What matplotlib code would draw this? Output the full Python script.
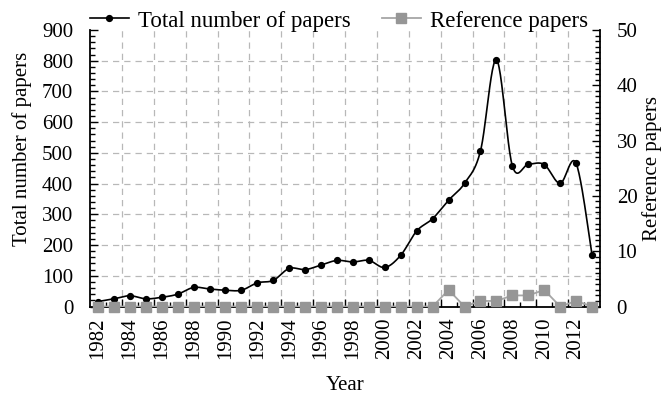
import numpy as np
import matplotlib
matplotlib.use("Agg")
import matplotlib.pyplot as plt
from matplotlib.ticker import MultipleLocator, FixedLocator, NullFormatter
from matplotlib.lines import Line2D

years = list(range(1982, 2014))
total_papers = [16, 25, 35, 25, 30, 40, 62, 57, 53, 53, 77, 85, 124, 120, 135, 150,
                145, 150, 127, 167, 246, 286, 346, 401, 506, 803, 458, 463, 462, 401,
                466, 168]
reference_papers = [0, 0, 0, 0, 0, 0, 0, 0, 0, 0, 0, 0, 0, 0, 0, 0,
                    0, 0, 0, 0, 0, 0, 3, 0, 1, 1, 2, 2, 3, 0, 1, 0]
year_labels = [str(y) for y in range(1982, 2014, 2)]

FS = 15
LEG_FS = 16.5
plt.rcParams['font.family'] = ['Liberation Serif', 'DejaVu Serif']
plt.rcParams['font.size'] = FS


def smooth_curve(x, y, steps=24):
    """Cubic Bezier smoothing through every point (Catmull-Rom style)."""
    x = np.asarray(x, float)
    y = np.asarray(y, float)
    n = len(x)
    xs, ys = [], []
    for i in range(n - 1):
        p0 = np.array([x[max(i - 1, 0)], y[max(i - 1, 0)]])
        p1 = np.array([x[i], y[i]])
        p2 = np.array([x[i + 1], y[i + 1]])
        p3 = np.array([x[min(i + 2, n - 1)], y[min(i + 2, n - 1)]])
        c1 = p1 + (p2 - p0) / 6.0
        c2 = p2 - (p3 - p1) / 6.0
        t = np.linspace(0, 1, steps, endpoint=(i == n - 2))[:, None]
        pts = ((1 - t) ** 3) * p1 + 3 * ((1 - t) ** 2) * t * c1 \
            + 3 * (1 - t) * t ** 2 * c2 + t ** 3 * p2
        xs.append(pts[:, 0])
        ys.append(pts[:, 1])
    return np.concatenate(xs), np.concatenate(ys)


fig = plt.figure(figsize=(6.63, 3.97), dpi=100)
ax = fig.add_axes([90 / 663, 1 - 306.5 / 397, 510 / 663, 276.5 / 397])
ax2 = ax.twinx()

# Total number of papers (left axis), smoothed line with dots
sx, sy = smooth_curve(years, total_papers)
ax.plot(sx, sy, color='black', lw=1.2, zorder=3)
ax.plot(years, total_papers, 'o', color='black', ms=4.2, zorder=4)

# Reference papers (right axis)
ax2.plot(years, reference_papers, '-', color='#a6a6a6', lw=1.3, zorder=3)
ax2.plot(years, reference_papers, 's', color='#969696', ms=6.8, zorder=4,
         clip_on=False)

ax.set_xlim(1981.5, 2013.5)
ax.set_ylim(0, 900)
ax2.set_ylim(0, 50)

# Category-style x axis: labels at every other year, ticks between categories
ax.xaxis.set_major_locator(FixedLocator(np.arange(1983.5, 2013, 2)))
ax.xaxis.set_minor_locator(FixedLocator(np.arange(1982.5, 2013, 2)))
ax.xaxis.set_major_formatter(NullFormatter())
for yr, lab in zip(range(1982, 2014, 2), year_labels):
    ax.text(yr, -0.04, lab, rotation=90, ha='center', va='top',
            transform=ax.get_xaxis_transform(), fontsize=FS)

ax.yaxis.set_major_locator(MultipleLocator(100))
ax.yaxis.set_minor_locator(MultipleLocator(20))
ax2.yaxis.set_major_locator(MultipleLocator(10))
ax2.yaxis.set_minor_locator(MultipleLocator(1))

ax.tick_params(axis='both', which='major', direction='in', length=6, width=1,
               labelsize=FS)
ax.tick_params(axis='both', which='minor', direction='in', length=3.5, width=1)
ax.tick_params(axis='y', which='major', pad=12)
ax2.tick_params(axis='y', which='major', direction='in', length=6, width=1,
                labelsize=FS, pad=12)
ax2.tick_params(axis='y', which='minor', direction='in', length=3.5, width=1)

for s in ['top', 'right']:
    ax.spines[s].set_visible(False)
for s in ['top', 'left', 'bottom']:
    ax2.spines[s].set_visible(False)
for s in ['left', 'bottom']:
    ax.spines[s].set_linewidth(1.3)
ax2.spines['right'].set_linewidth(1.3)

# Dashed grid
for gy in range(100, 900, 100):
    ax.axhline(gy, color='#b8b8b8', lw=0.9, ls=(0, (5, 4)), zorder=1)
for gx in np.arange(1983.5, 2013, 2):
    ax.axvline(gx, color='#b8b8b8', lw=0.9, ls=(0, (5, 4)), zorder=1)

ax.set_ylabel('Total number of papers', fontsize=FS)
ax.yaxis.set_label_coords(-0.114, 0.57)
ax2.set_ylabel('Reference papers', fontsize=FS)
ax2.yaxis.set_label_coords(1.082, 0.5)
fig.text(0.5 * (90 + 600) / 663, 1 - 385 / 397, 'Year', ha='center',
         va='center', fontsize=FS)

handles = [
    Line2D([], [], color='black', lw=1.2, marker='o', ms=4.2),
    Line2D([], [], color='#a6a6a6', lw=1.3, marker='s', ms=6.8,
           markerfacecolor='#969696', markeredgecolor='#969696'),
]
fig.legend(handles, ['Total number of papers', 'Reference papers'],
           loc='center left', bbox_to_anchor=(90 / 663, 1 - 21 / 397), ncol=2,
           frameon=False, fontsize=LEG_FS, handlelength=1.7, handletextpad=0.4,
           columnspacing=1.35, numpoints=1, borderpad=0, borderaxespad=0)

fig.savefig('out.png', dpi=100)
